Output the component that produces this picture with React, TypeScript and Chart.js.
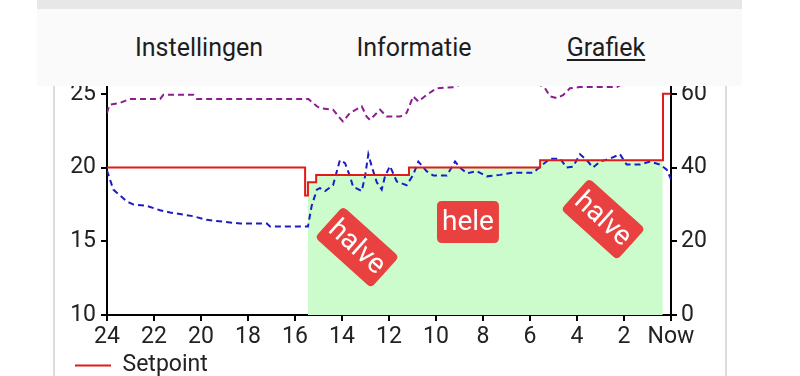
import React, { useEffect, useRef } from 'react';
import { Chart, registerables } from 'chart.js';

Chart.register(...registerables);

// ---- data ----
const tabLabels = ['Instellingen', 'Informatie', 'Grafiek'];

const setpointHours = [24, 15.57, 15.45, 15.1, 11.15, 5.57, 0.34, 0.02];
const setpointValues = [20, 18.1, 19.0, 19.5, 20.0, 20.5, 25, 25];

const heatHours = [15.45, 15.1, 11.15, 5.57, 0.35];
const heatValues = [19.0, 19.5, 20.0, 20.5, 20.5];

const tempHours = [
  24, 23.73, 23.16, 22.89, 22.31, 21.74, 21.32, 20.34, 19.76, 18.34, 17.2, 17.06, 15.45, 15.29,
  15.07, 14.94, 14.72, 14.38, 14.09, 13.87, 13.66, 13.53, 13.16, 13.02, 12.88, 12.74, 12.52,
  12.31, 12.17, 11.96, 11.67, 11.25, 10.97, 10.75, 10.4, 10.11, 9.54, 9.19, 8.98, 8.69, 8.27,
  7.84, 7.28, 6.71, 5.86, 5.5, 5.15, 4.72, 4.44, 4.17, 3.87, 3.59, 3.32, 3.02, 2.6, 2.17, 1.89,
  1.32, 0.89, 0.47, 0.18, 0.0,
];
const tempValues = [
  19.8, 18.5, 17.7, 17.5, 17.4, 17.1, 16.95, 16.7, 16.45, 16.2, 16.2, 16.0, 16.0, 17.4,
  18.5, 18.6, 18.4, 18.8, 20.5, 20.3, 19.4, 18.7, 18.4, 19.4, 20.9, 20.1, 19.0,
  18.5, 19.4, 20.1, 19.05, 18.8, 19.5, 20.4, 19.75, 19.45, 19.45, 20.4, 20.0, 19.6, 19.75,
  19.4, 19.5, 19.65, 19.65, 20.15, 20.6, 20.6, 20.0, 20.05, 20.9, 20.5, 20.0, 20.4, 20.6, 20.9, 20.2,
  20.2, 20.4, 20.2, 19.85, 19.2,
];

const humidityHours = [
  24, 23.9, 23.45, 23.02, 21.74, 21.6, 20.33, 20.18, 15.43, 15.07, 14.94, 14.38, 14.09, 13.96,
  13.66, 13.16, 12.95, 12.81, 12.38, 12.1, 11.53, 11.25, 10.97, 10.75, 10.4, 9.97, 9.6, 9.2,
  8.8, 7.5, 6.2, 5.6, 5.36, 5.15, 4.86, 4.58, 4.3, 3.9, 2.3, 2.0, 1.0, 0.0,
];
const humidityValues = [
  54.8, 57.0, 57.5, 58.6, 58.6, 59.7, 59.7, 58.6, 58.6, 56.6, 56.1, 55.7, 53.4, 52.5,
  54.8, 56.6, 53.8, 52.9, 55.7, 53.8, 53.8, 54.8, 59.3, 57.9, 59.7, 61.5, 61.7, 61.8,
  63.0, 63.5, 63.2, 62.5, 61.5, 59.3, 58.8, 59.7, 61.5, 61.8, 61.8, 63.0, 63.5, 63.2,
];

const tagTexts = ['halve', 'hele', 'halve'];
const tagHours = [13.36, 8.64, 2.89];
const tagValues = [14.6, 16.3, 16.5];
const tagAngles = [42, 0, 42];

const zip = (xs: number[], ys: number[]) => xs.map((x, i) => ({ x, y: ys[i] }));

const tagPlugin = {
  id: 'tags',
  afterDatasetsDraw(chart: any) {
    const { ctx, scales } = chart;
    const xs = scales.x;
    const ys = scales.y;
    ctx.save();
    ctx.font = '28px Roboto';
    tagTexts.forEach((t, i) => {
      const px = xs.getPixelForValue(tagHours[i]);
      const py = ys.getPixelForValue(tagValues[i]);
      const w = ctx.measureText(t).width + 10;
      const h = 42;
      ctx.save();
      ctx.translate(px, py);
      ctx.rotate((tagAngles[i] * Math.PI) / 180);
      const r = 5;
      ctx.beginPath();
      ctx.moveTo(-w / 2 + r, -h / 2);
      ctx.lineTo(w / 2 - r, -h / 2);
      ctx.quadraticCurveTo(w / 2, -h / 2, w / 2, -h / 2 + r);
      ctx.lineTo(w / 2, h / 2 - r);
      ctx.quadraticCurveTo(w / 2, h / 2, w / 2 - r, h / 2);
      ctx.lineTo(-w / 2 + r, h / 2);
      ctx.quadraticCurveTo(-w / 2, h / 2, -w / 2, h / 2 - r);
      ctx.lineTo(-w / 2, -h / 2 + r);
      ctx.quadraticCurveTo(-w / 2, -h / 2, -w / 2 + r, -h / 2);
      ctx.closePath();
      ctx.fillStyle = '#e8413f';
      ctx.fill();
      ctx.fillStyle = '#ffffff';
      ctx.textAlign = 'center';
      ctx.textBaseline = 'middle';
      ctx.fillText(t, 0, 1);
      ctx.restore();
    });
    ctx.restore();
  },
};

export default function App() {
  const ref = useRef<HTMLCanvasElement | null>(null);

  useEffect(() => {
    document.body.style.margin = '0';
    if (!ref.current) return;
    Chart.defaults.font.family = 'Roboto';
    Chart.defaults.color = '#222';
    const chart = new Chart(ref.current, {
      type: 'line',
      data: {
        datasets: [
          {
            label: 'Setpoint',
            data: zip(setpointHours, setpointValues),
            borderColor: '#e01b1b',
            backgroundColor: '#e01b1b',
            borderWidth: 2,
            stepped: true,
            pointRadius: 0,
            yAxisID: 'y',
            order: 1,
          },
          {
            label: 'Temperatuur',
            data: zip(tempHours, tempValues),
            borderColor: '#1c1cc4',
            borderWidth: 2,
            borderDash: [6, 4],
            pointRadius: 0,
            tension: 0,
            yAxisID: 'y',
            order: 2,
          },
          {
            label: 'Vochtigheid',
            data: zip(humidityHours, humidityValues),
            borderColor: '#8b1e8f',
            borderWidth: 2,
            borderDash: [6, 4],
            pointRadius: 0,
            tension: 0,
            yAxisID: 'y1',
            order: 3,
          },
          {
            label: 'Verwarming',
            data: zip(heatHours, heatValues),
            borderColor: 'rgba(0,0,0,0)',
            borderWidth: 0,
            backgroundColor: '#ccfccc',
            fill: 'start',
            stepped: true,
            pointRadius: 0,
            yAxisID: 'y',
            order: 10,
          },
        ],
      },
      options: {
        animation: false,
        responsive: true,
        maintainAspectRatio: false,
        layout: { padding: { top: 20, left: 0, right: 0, bottom: 0 } },
        plugins: {
          tooltip: { enabled: false },
          legend: {
            display: true,
            position: 'bottom',
            align: 'start',
            labels: {
              filter: (item: any) => item.text === 'Setpoint',
              usePointStyle: true,
              pointStyle: 'line',
              pointStyleWidth: 36,
              padding: 10,
              font: { size: 23 },
              color: '#222',
            },
          },
        },
        scales: {
          x: {
            type: 'linear',
            min: 0,
            max: 24,
            reverse: true,
            afterFit: (s: any) => {
              s.height = 29;
            },
            border: { display: true, color: '#000', width: 2 },
            grid: { display: true, drawOnChartArea: false, drawTicks: true, tickLength: 6, color: '#000', lineWidth: 2 },
            ticks: {
              stepSize: 2,
              autoSkip: false,
              maxRotation: 0,
              padding: 2,
              font: { size: 23 },
              color: '#222',
              callback: (v: any) => (v === 0 ? 'Now' : String(v)),
            },
          },
          y: {
            type: 'linear',
            position: 'left',
            min: 10,
            max: 30,
            afterFit: (s: any) => {
              s.width = 42;
            },
            border: { display: true, color: '#000', width: 2 },
            grid: { display: true, drawOnChartArea: false, drawTicks: true, tickLength: 6, color: '#000', lineWidth: 2 },
            ticks: { stepSize: 5, padding: 5, font: { size: 23 }, color: '#222' },
          },
          y1: {
            type: 'linear',
            position: 'right',
            min: 0,
            max: 80,
            afterFit: (s: any) => {
              s.width = 49;
            },
            border: { display: true, color: '#000', width: 2 },
            grid: { display: true, drawOnChartArea: false, drawTicks: true, tickLength: 6, color: '#000', lineWidth: 2 },
            ticks: { stepSize: 20, padding: 4, font: { size: 23 }, color: '#222' },
          },
        },
      },
      plugins: [tagPlugin],
    } as any);
    return () => chart.destroy();
  }, []);

  const tabCenters = [199, 414, 606];

  return (
    <div
      style={{
        position: 'fixed',
        left: 0,
        top: 0,
        width: 800,
        height: 376,
        overflow: 'hidden',
        background: '#ffffff',
        fontFamily: 'Roboto, sans-serif',
      }}
    >
      <div style={{ position: 'absolute', left: 65, top: 0, width: 655, height: 387 }}>
        <canvas ref={ref} />
      </div>
      <div style={{ position: 'absolute', left: 53, top: 86, width: 2, height: 300, background: '#dcdcdc' }} />
      <div style={{ position: 'absolute', left: 725, top: 86, width: 2, height: 300, background: '#dcdcdc' }} />
      <div style={{ position: 'absolute', left: 37, top: 0, width: 705, height: 9, background: '#e7e7e7', zIndex: 3 }} />
      <div style={{ position: 'absolute', left: 37, top: 9, width: 705, height: 77, background: '#fafafa', zIndex: 3 }}>
        {tabLabels.map((t, i) => (
          <div
            key={t}
            style={{
              position: 'absolute',
              left: tabCenters[i] - 37 - 100,
              width: 200,
              top: 35 - 9,
              textAlign: 'center',
              fontSize: 25,
              lineHeight: '25px',
              color: '#1e1e1e',
              textDecoration: i === 2 ? 'underline' : 'none',
              textUnderlineOffset: 3,
            }}
          >
            {t}
          </div>
        ))}
      </div>
    </div>
  );
}
